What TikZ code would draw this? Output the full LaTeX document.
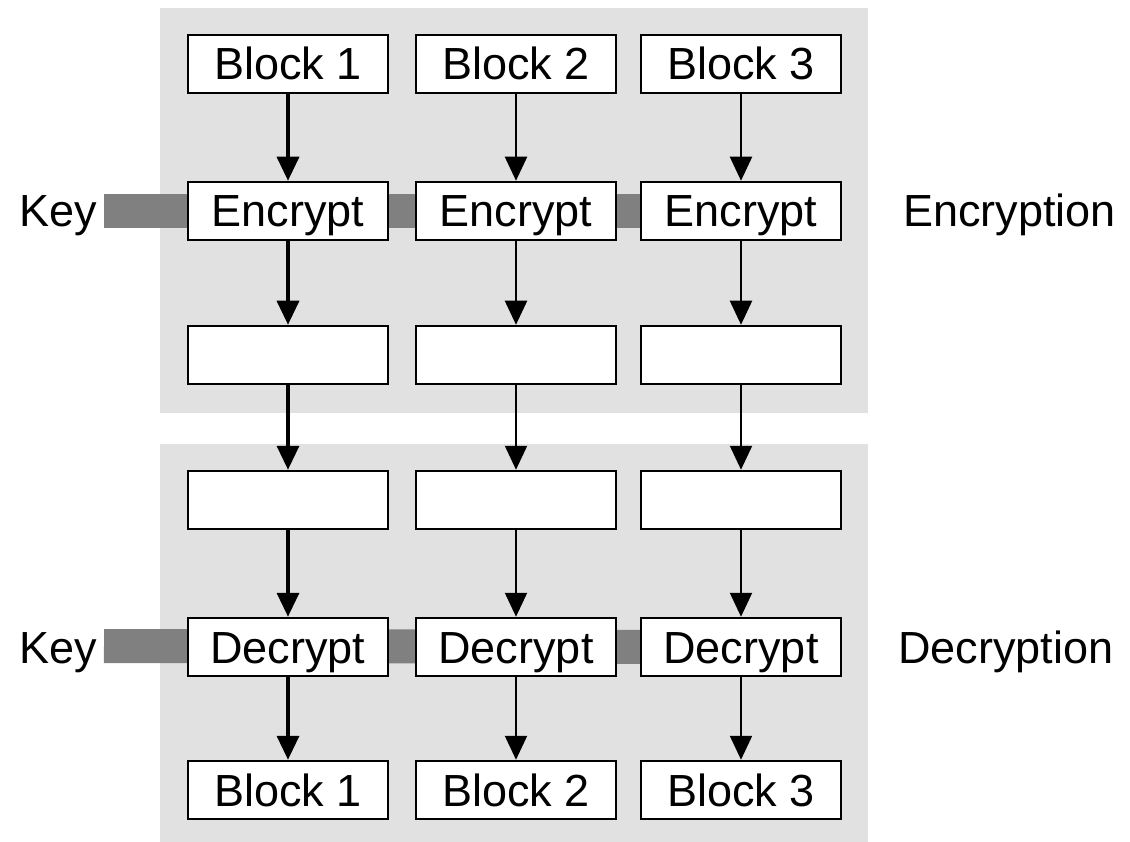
\documentclass[tikz,border=0pt]{standalone}
\usepackage{fontspec}
\setmainfont{Liberation Sans}
\usetikzlibrary{arrows.meta,backgrounds}
\definecolor{panelgray}{HTML}{E1E1E1}
\definecolor{keygray}{HTML}{808080}
\begin{document}
\begin{tikzpicture}[x=1pt,y=-1pt,
  txt/.style={font=\fontsize{45}{54}\selectfont,text height=32pt,text depth=0pt,inner sep=0pt},
  box/.style={txt,draw=black,line width=2.5pt,fill=white,minimum width=200pt,minimum height=58pt},
  flow/.style={line width=2.2pt,-{Triangle[length=24pt,width=22pt]}},
  flowthick/.style={flow,line width=3.5pt},
  keybar/.style={draw=keygray,line width=34pt},
  panel/.style={fill=panelgray,draw=none}]
\useasboundingbox (0,0) rectangle (1130,842);
% columns
\foreach \c/\x in {1/288,2/516,3/741}{
  \node[box] (b\c) at (\x,64) {Block \c};
  \node[box] (e\c) at (\x,211) {Encrypt};
  \node[box] (c\c) at (\x,355) {};
  \node[box] (r\c) at (\x,500) {};
  \node[box] (d\c) at (\x,647) {Decrypt};
  \node[box] (o\c) at (\x,790) {Block \c};
}
\node[txt,anchor=east] (keyE) at (97,211) {Key};
\node[txt,anchor=east] (keyD) at (97,647) {Key};
\node[txt,anchor=west] (encl) at (903,211) {Encryption};
\node[txt,anchor=west] (decl) at (898,647) {Decryption};
\coordinate (kE) at (104,211);
\coordinate (kD) at (104,646);
\begin{scope}[on background layer]
  \fill[panel] (160,8) rectangle (868,413);
  \fill[panel] (160,444) rectangle (868,842);
  \draw[keybar] (kE) -- (e3.center);
  \draw[keybar] (kD) -- (d3.center);
\end{scope}
\foreach \c/\s in {1/flowthick,2/flow,3/flow}{
  \draw[\s] (b\c) -- (e\c);
  \draw[\s] (e\c) -- (c\c);
  \draw[\s] (c\c) -- (r\c);
  \draw[\s] (r\c) -- (d\c);
  \draw[\s] (d\c) -- (o\c);
}
\end{tikzpicture}
\end{document}
